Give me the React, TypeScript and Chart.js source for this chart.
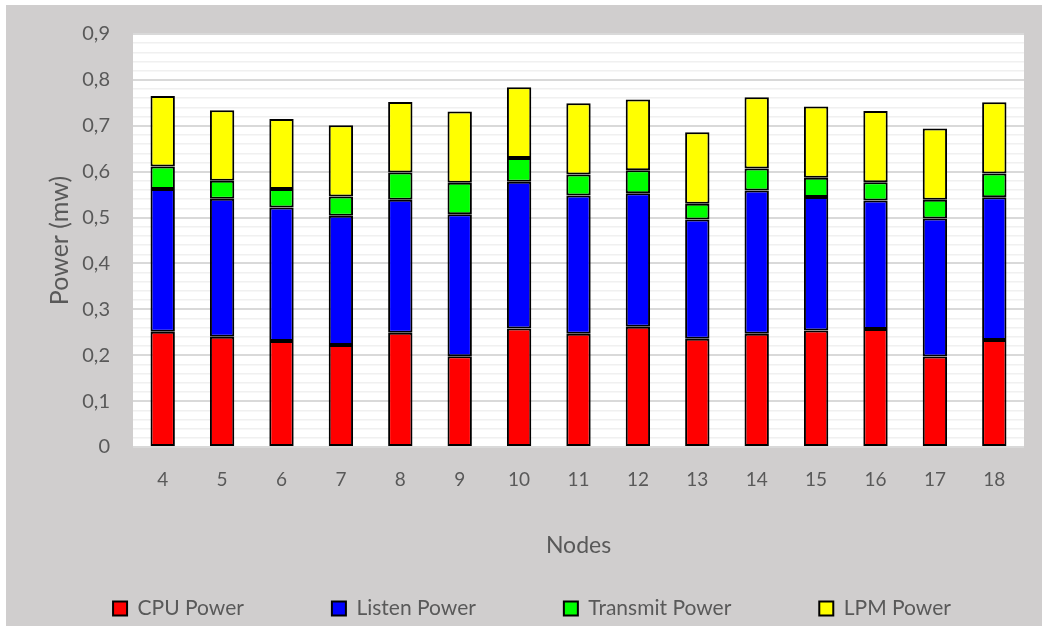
import React, { useEffect, useRef } from 'react';
import { Chart, registerables } from 'chart.js';

Chart.register(...registerables);

const nodes = ['4', '5', '6', '7', '8', '9', '10', '11', '12', '13', '14', '15', '16', '17', '18'];
const cpuPower = [0.251, 0.240, 0.231, 0.2225, 0.249, 0.198, 0.258, 0.247, 0.262, 0.236, 0.247, 0.254, 0.257, 0.197, 0.233];
const listenPower = [0.311, 0.301, 0.291, 0.2815, 0.290, 0.309, 0.320, 0.301, 0.291, 0.260, 0.312, 0.291, 0.280, 0.301, 0.311];
const transmitPower = [0.049, 0.039, 0.040, 0.042, 0.059, 0.069, 0.052, 0.046, 0.050, 0.034, 0.048, 0.042, 0.040, 0.041, 0.052];
const lpmPower = [0.154, 0.154, 0.153, 0.155, 0.154, 0.155, 0.154, 0.155, 0.154, 0.156, 0.155, 0.155, 0.155, 0.155, 0.155];

const seriesNames = ['CPU Power', 'Listen Power', 'Transmit Power', 'LPM Power'];
const seriesColors = ['#ff0000', '#0000ff', '#00ff00', '#ffff00'];

const yMin = 0;
const yMax = 0.9;
const yMinorStep = 0.02;

const FONT = 'Lato, "Open Sans", sans-serif';
const TEXT = '#595959';

const isMajor = (v: number) => Math.abs(v * 10 - Math.round(v * 10)) < 1e-6;

const plotBackground = {
  id: 'plotBackground',
  beforeDraw(chart: any) {
    const { ctx, chartArea } = chart;
    ctx.save();
    ctx.fillStyle = '#ffffff';
    ctx.fillRect(chartArea.left, chartArea.top, chartArea.right - chartArea.left, chartArea.bottom - chartArea.top);
    ctx.restore();
  },
};

const noScalePadding = (s: any) => {
  s.paddingTop = 0;
  s.paddingBottom = 0;
  s.paddingLeft = 0;
  s.paddingRight = 0;
};

export default function App() {
  const ref = useRef<HTMLCanvasElement>(null);

  useEffect(() => {
    const values = [cpuPower, listenPower, transmitPower, lpmPower];
    const chart = new Chart(ref.current!, {
      type: 'bar',
      data: {
        labels: nodes,
        datasets: values.map((d, i) => ({
          label: seriesNames[i],
          data: d,
          backgroundColor: seriesColors[i],
          borderColor: '#000000',
          borderWidth: 2,
          borderSkipped: false,
          barPercentage: 0.41,
          categoryPercentage: 1,
          yAxisID: 'y',
        })),
      },
      options: {
        responsive: false,
        animation: false,
        layout: { padding: { left: 16, right: 0, top: 29, bottom: -3 } },
        plugins: {
          tooltip: { enabled: false },
          legend: {
            position: 'bottom',
            labels: {
              boxWidth: 14,
              boxHeight: 14,
              padding: 88,
              color: TEXT,
              font: { family: FONT, size: 21 },
            },
          },
        },
        scales: {
          x: {
            stacked: true,
            grid: { display: false },
            border: { display: false },
            ticks: { color: TEXT, font: { family: FONT, size: 19 }, padding: 13 },
            title: {
              display: true,
              text: 'Nodes',
              color: TEXT,
              font: { family: FONT, size: 23 },
              padding: { top: 0, bottom: -49 },
            },
            afterFit: (s: any) => {
              s.height = 63;
              noScalePadding(s);
            },
          },
          y: {
            stacked: true,
            min: yMin,
            max: yMax,
            ticks: {
              stepSize: yMinorStep,
              autoSkip: false,
              padding: 23,
              color: TEXT,
              font: { family: FONT, size: 20 },
              callback: (v: any) => {
                const n = Number(v);
                if (!isMajor(n)) return '';
                if (Math.abs(n) < 1e-9) return '0';
                return n.toFixed(1).replace('.', ',');
              },
            },
            grid: {
              drawTicks: false,
              color: (ctx: any) => (ctx.tick && isMajor(ctx.tick.value) ? '#d9d9d9' : '#f0f0f0'),
              lineWidth: (ctx: any) => (ctx.tick && isMajor(ctx.tick.value) ? 2 : 1.5),
            },
            border: { display: false },
            title: {
              display: true,
              text: 'Power (mw)',
              color: TEXT,
              font: { family: FONT, size: 25 },
              padding: { top: 23, bottom: 0 },
            },
            afterFit: (s: any) => {
              s.width = 111;
              noScalePadding(s);
            },
          },
          yRightMargin: {
            position: 'right',
            display: true,
            grid: { display: false, drawTicks: false },
            border: { display: false },
            ticks: { display: false },
            afterFit: (s: any) => {
              s.width = 18;
              noScalePadding(s);
            },
          },
        },
      },
      plugins: [plotBackground],
    } as any);
    return () => chart.destroy();
  }, []);

  return (
    <div style={{ position: 'absolute', left: 0, top: 0, width: 1042, height: 626, background: '#ffffff' }}>
      <div style={{ position: 'absolute', left: 6, top: 5, width: 1036, height: 621, background: '#d0cece' }}>
        <canvas ref={ref} width={1036} height={621} style={{ display: 'block' }} />
      </div>
    </div>
  );
}
